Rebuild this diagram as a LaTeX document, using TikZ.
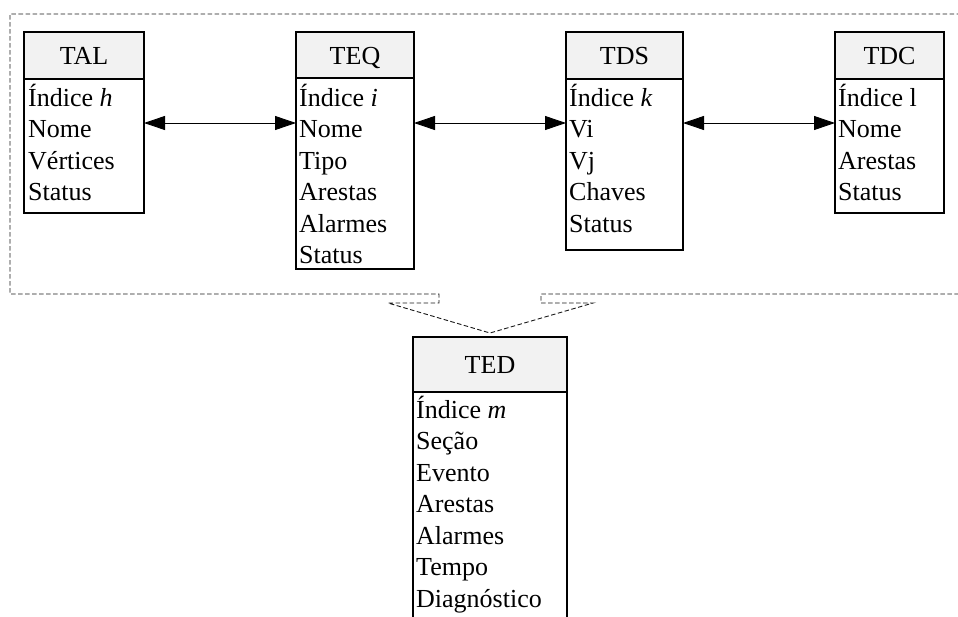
\documentclass[tikz,border=0pt]{standalone}
\usepackage{fontspec}
\setmainfont{Liberation Serif}
\usetikzlibrary{arrows.meta}
\definecolor{headfill}{HTML}{F2F2F2}
\begin{document}
\begin{tikzpicture}[x=1pt,y=-1pt,
  font=\fontsize{26}{31}\selectfont,
  boxline/.style={draw=black,line width=1.6pt,inner sep=0pt,outer sep=0pt,anchor=north west},
  headbox/.style={boxline,fill=headfill},
  bodybox/.style={boxline,fill=white},
  rowtext/.style={anchor=base west,inner sep=0pt},
  headtext/.style={anchor=base,inner sep=0pt},
  link/.style={line width=0.9pt,draw=black,{Triangle[length=21pt,width=14pt]}-{Triangle[length=21pt,width=14pt]}},
  frame/.style={dash pattern=on 4.5pt off 2.5pt,line width=0.9pt,draw=black!90}
]
\useasboundingbox (0,0) rectangle (958,616);

% grouping frame with a notch pointing down to the event table
\draw[frame] (975,14) -- (10,14) -- (10,294) -- (439,294) -- (439,303) -- (388,303)
  -- (490,333) -- (593,303) -- (541,303) -- (541,294) -- (975,294);

% TAL
\node[headbox,minimum width=120,minimum height=47] (talh) at (24,32) {};
\node[headtext] (talt) at ([yshift=-9pt]talh.center) {TAL};
\node[bodybox,minimum width=120,minimum height=134] (talb) at (24,79) {};
\foreach \t [count=\i] in {{Índice \textit{h}},Nome,Vértices,Status}
  \node[rowtext] (tal\i) at (28,{106+31.5*(\i-1)}) {\t};

% TEQ
\node[headbox,minimum width=118,minimum height=46] (teqh) at (296,32) {};
\node[headtext] (teqt) at ([yshift=-9pt]teqh.center) {TEQ};
\node[bodybox,minimum width=118,minimum height=191] (teqb) at (296,78) {};
\foreach \t [count=\i] in {{Índice \textit{i}},Nome,Tipo,Arestas,Alarmes,Status}
  \node[rowtext] (teq\i) at (299,{106+31.5*(\i-1)}) {\t};

% TDS
\node[headbox,minimum width=117,minimum height=47] (tdsh) at (566,32) {};
\node[headtext] (tdst) at ([yshift=-9pt]tdsh.center) {TDS};
\node[bodybox,minimum width=117,minimum height=171] (tdsb) at (566,79) {};
\foreach \t [count=\i] in {{Índice \textit{k}},Vi,Vj,Chaves,Status}
  \node[rowtext] (tds\i) at (569,{106+31.5*(\i-1)}) {\t};

% TDC
\node[headbox,minimum width=109,minimum height=47] (tdch) at (835,32) {};
\node[headtext] (tdct) at ([yshift=-9pt]tdch.center) {TDC};
\node[bodybox,minimum width=109,minimum height=134] (tdcb) at (835,79) {};
\foreach \t [count=\i] in {{Índice l},Nome,Arestas,Status}
  \node[rowtext] (tdc\i) at (838,{106+31.5*(\i-1)}) {\t};

% TED
\node[headbox,minimum width=154,minimum height=55] (tedh) at (413,337) {};
\node[headtext] (tedt) at ([yshift=-9pt]tedh.center) {TED};
\node[bodybox,minimum width=154,minimum height=240] (tedb) at (413,392) {};
\foreach \t [count=\i] in {{Índice \textit{m}},Seção,Evento,Arestas,Alarmes,Tempo,Diagnóstico}
  \node[rowtext] (ted\i) at (416,{418+31.5*(\i-1)}) {\t};

% links between the tables
\coordinate (ylink) at (0,123);
\draw[link] (talb.east |- ylink) -- (teqb.west |- ylink);
\draw[link] (teqb.east |- ylink) -- (tdsb.west |- ylink);
\draw[link] (tdsb.east |- ylink) -- (tdcb.west |- ylink);
\end{tikzpicture}
\end{document}
